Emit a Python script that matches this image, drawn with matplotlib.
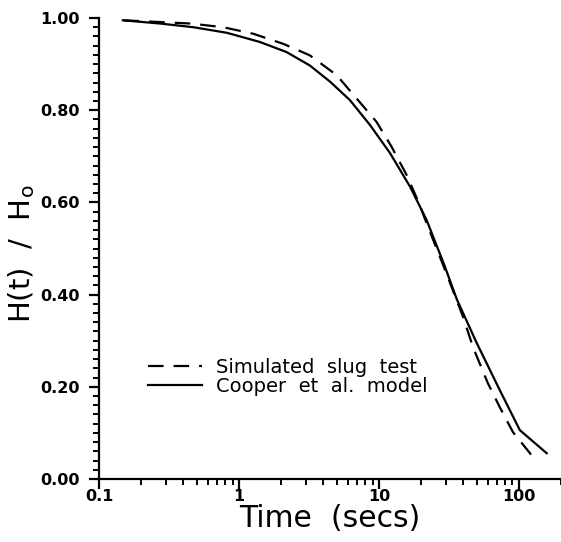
import numpy as np
import matplotlib
matplotlib.use('Agg')
import matplotlib.pyplot as plt
from matplotlib.ticker import FixedLocator, MultipleLocator, FuncFormatter, LogLocator

# simulated slug test (dashed)
t_sim = [0.15, 0.45, 0.77, 1.26, 2.07, 3.21, 4.99, 6.9, 9.6, 12.3, 15.8, 19.1, 22.9, 30.0,
         40.0, 47.0, 60.0, 73.0, 90.6, 120.0, 134.0]
h_sim = [0.995, 0.988, 0.980, 0.966, 0.944, 0.919, 0.876, 0.826, 0.775, 0.721, 0.659, 0.602,
         0.540, 0.45, 0.351, 0.286, 0.208, 0.156, 0.102, 0.056, 0.035]

# Cooper et al. model (solid)
t_coop = [0.148, 0.273, 0.472, 0.817, 1.41, 2.19, 3.21, 4.47, 6.2, 8.63, 12.0, 16.7, 21.9,
          29.6, 36.0, 50.0, 73.0, 101.6, 158.0]
h_coop = [0.995, 0.988, 0.980, 0.968, 0.948, 0.926, 0.897, 0.862, 0.822, 0.768, 0.707, 0.634,
          0.562, 0.461, 0.39, 0.295, 0.193, 0.106, 0.056]

yticks = [0.0, 0.2, 0.4, 0.6, 0.8, 1.0]
xticks = [0.1, 1, 10, 100]
xticklabels = ['0.1', '1', '10', '100']

fig = plt.figure(figsize=(5.61, 5.42), dpi=100)
ax = fig.add_axes([0.1765, 0.1162, 0.8235, 0.8506])

ax.plot(t_sim, h_sim, color='black', lw=1.6, linestyle=(0, (7, 4.5)),
        label='Simulated  slug  test')
ax.plot(t_coop, h_coop, color='black', lw=1.6, label='Cooper  et  al.  model')

ax.set_xscale('log')
ax.set_xlim(0.1, 200)
ax.set_ylim(0, 1.0)

ax.set_yticks(yticks)
ax.yaxis.set_minor_locator(MultipleLocator(0.02))
ax.set_yticklabels(['%.2f' % v for v in yticks], fontweight='bold', fontsize=11.5)

ax.xaxis.set_major_locator(FixedLocator(xticks))
ax.xaxis.set_minor_locator(LogLocator(base=10, subs=np.arange(2, 10)))
ax.xaxis.set_minor_formatter(FuncFormatter(lambda v, p: ''))
ax.set_xticklabels(xticklabels, fontweight='bold', fontsize=11.5)

for s in ['top', 'right']:
    ax.spines[s].set_visible(False)
for s in ['left', 'bottom']:
    ax.spines[s].set_linewidth(1.6)

ax.tick_params(which='major', direction='out', length=7, width=1.6)
ax.tick_params(which='minor', direction='out', length=4.5, width=1.4)
ax.tick_params(axis='y', which='major', pad=7)
ax.tick_params(axis='x', which='major', pad=0)

ax.set_xlabel('Time  (secs)', fontsize=21.5, labelpad=0)
ax.set_ylabel('H(t)  /  H$_\\mathregular{o}$', fontsize=21, labelpad=2)
ax.yaxis.label.set_y(0.488)

leg = ax.legend(loc='upper left', bbox_to_anchor=(0.105, 0.262), frameon=False,
                fontsize=14, handlelength=2.8, handletextpad=0.7, labelspacing=0.0,
                borderpad=0, borderaxespad=0)

fig.savefig('out.png', dpi=100)
